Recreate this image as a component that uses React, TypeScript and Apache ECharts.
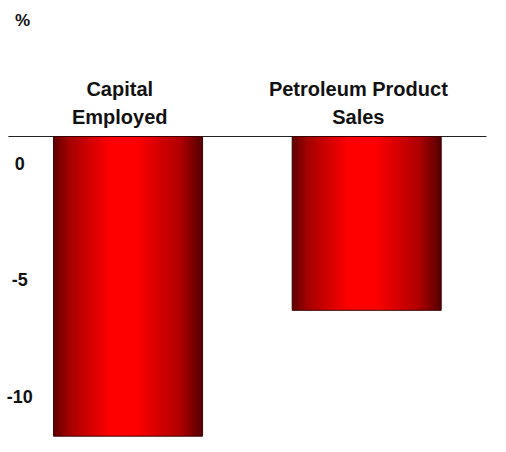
import React, { useEffect, useRef } from "react";
import * as echarts from "echarts";

const categories = ["Capital\nEmployed", "Petroleum Product\nSales"];
const changePct = [-12.9, -7.5];
const tickValues = [0, -5, -10];
const unitLabel = "%";

export default function App() {
  const ref = useRef<HTMLDivElement>(null);
  useEffect(() => {
    if (!ref.current) return;
    const chart = echarts.init(ref.current, null, { renderer: "svg" });
    const font = "'Liberation Sans', Arial, sans-serif";
    chart.setOption({
      animation: false,
      backgroundColor: "#ffffff",
      title: {
        text: unitLabel,
        left: 10,
        top: 7,
        textStyle: { fontFamily: font, fontSize: 17, fontWeight: "bold", color: "#111" },
      },
      grid: { left: 8.75, right: 20, top: 136, bottom: 13 },
      xAxis: {
        type: "category",
        position: "top",
        data: categories,
        axisLine: { show: true, lineStyle: { color: "#222", width: 1 } },
        axisTick: { show: false },
        axisLabel: {
          interval: 0,
          hideOverlap: false,
          fontFamily: font,
          fontSize: 20,
          fontWeight: "bold",
          color: "#111",
          lineHeight: 28,
          margin: 5,
          formatter: (v: string) =>
            v
              .split("\n")
              .map((s) => s + "   ")
              .join("\n"),
        },
      },
      yAxis: {
        type: "value",
        min: -13,
        max: 0,
        splitLine: { show: false },
        axisLine: { show: false },
        axisTick: { show: false },
        axisLabel: {
          customValues: tickValues,
          fontFamily: font,
          fontSize: 18,
          fontWeight: "bold",
          color: "#111",
          align: "center",
          verticalAlign: "middle",
          margin: -11,
          lineHeight: 55,
          formatter: (v: number) => "\n" + v,
        },
      },
      series: [
        {
          type: "bar",
          data: changePct,
          barWidth: 150,
          itemStyle: {
            borderColor: "#3a0000",
            borderWidth: 1,
            color: new echarts.graphic.LinearGradient(0, 0, 1, 0, [
              { offset: 0, color: "#5e0000" },
              { offset: 0.1, color: "#a30000" },
              { offset: 0.38, color: "#ff0000" },
              { offset: 0.55, color: "#ff0000" },
              { offset: 0.85, color: "#b00000" },
              { offset: 1, color: "#540000" },
            ]),
          },
        },
      ],
    });
    return () => chart.dispose();
  }, []);
  return (
    <div
      ref={ref}
      style={{ position: "fixed", left: 0, top: 0, width: 506, height: 452 }}
    />
  );
}
